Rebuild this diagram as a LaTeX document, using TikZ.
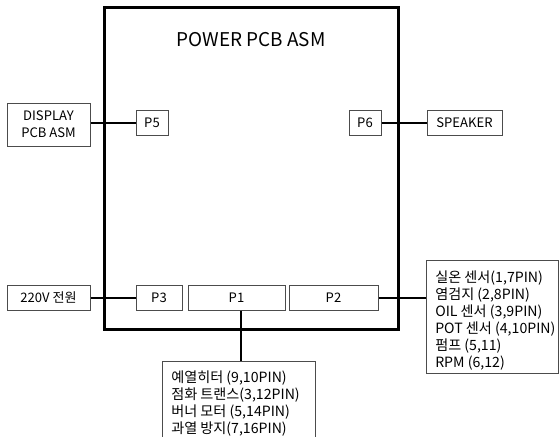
\documentclass[tikz,border=0pt]{standalone}
\usepackage{fontspec}
\setmainfont{Noto Sans CJK KR}
\begin{document}
\begin{tikzpicture}[x=0.75pt,y=-0.75pt,
  box/.style={draw=black!70, line width=0.75pt, fill=white, inner sep=0pt, align=center,
    font=\fontsize{9.8}{12.5}\selectfont},
  lbox/.style={draw=black!70, line width=0.75pt, fill=white, inner sep=0pt},
  wire/.style={line width=1.5pt},
  frame/.style={line width=2.25pt},
  txt/.style={font=\fontsize{10.6}{12.75}\selectfont, align=left, anchor=north west, inner sep=0pt}]
\useasboundingbox (0,0) rectangle (560,436);
\clip (0,0) rectangle (560,436);
\fill[white] (0,0) rectangle (560,436);
% main board
\draw[frame] (104,7) rectangle (398,329);
\node[font=\fontsize{14.2}{16}\selectfont] (title) at (251,40) {POWER PCB ASM};
% outer nodes
\node[box, minimum width=62.25pt, minimum height=32.25pt] (disp) at (48.5,124.5) {DISPLAY\\PCB ASM};
\node[box, minimum width=24pt, minimum height=18.75pt] (P5) at (152,122.5) {P5};
\node[box, minimum width=24pt, minimum height=18.75pt] (P6) at (365,122.5) {P6};
\node[box, minimum width=56.25pt, minimum height=18.75pt] (spk) at (464.5,122.5) {SPEAKER};
\node[box, minimum width=62.25pt, minimum height=18.75pt] (pwr) at (48.5,297.5) {220V 전원};
\node[box, minimum width=34.5pt, minimum height=18.75pt] (P3) at (159,297.5) {P3};
\node[box, minimum width=72.75pt, minimum height=18.75pt] (P1) at (236.5,297.5) {P1};
\node[box, minimum width=66.75pt, minimum height=18.75pt] (P2) at (333.5,297.5) {P2};
% sensor box
\node[lbox, minimum width=99pt, minimum height=84.75pt] (sens) at (492,316.5) {};
\node[txt] (senstxt) at (435,271) {실온 센서(1,7PIN)\\염검지 (2,8PIN)\\OIL 센서 (3,9PIN)\\POT 센서 (4,10PIN)\\펌프 (5,11)\\RPM (6,12)};
% load box (cut off at bottom)
\node[lbox, minimum width=114.75pt, minimum height=66.75pt] (load) at (238.5,405.5) {};
\node[txt] (loadtxt) at (171,371) {예열히터 (9,10PIN)\\점화 트랜스(3,12PIN)\\버너 모터 (5,14PIN)\\과열 방지(7,16PIN)};
% connectors
\draw[wire] (disp.east |- P5.west) -- (P5.west);
\draw[wire] (P6.east) -- (P6.east -| spk.west);
\draw[wire] (pwr.east) -- (P3.west);
\draw[wire] (P2.east) -- (P2.east -| sens.west);
\draw[wire] ([xshift=3.4pt]P1.south) -- ([xshift=3.4pt]P1.south |- load.north);
\end{tikzpicture}
\end{document}
